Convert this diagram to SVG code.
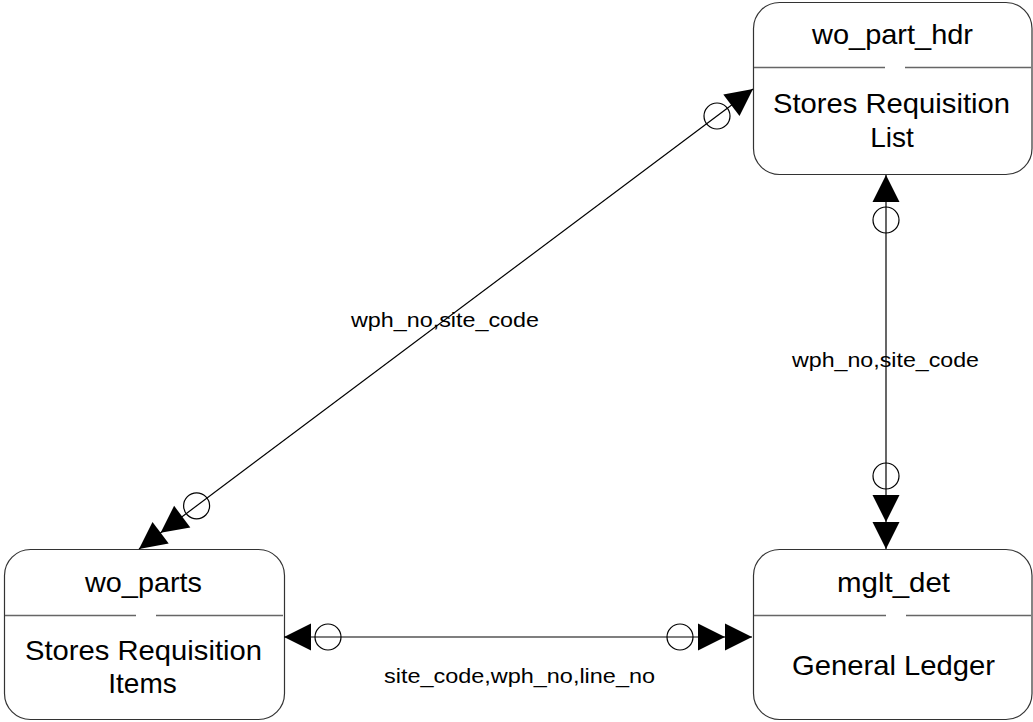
<svg xmlns="http://www.w3.org/2000/svg" xmlns:xlink="http://www.w3.org/1999/xlink" width="1033" height="722" viewBox="0 0 1033 722">
  <style>
    .box { fill: #ffffff; stroke: #333333; stroke-width: 1.2; }
    .div { stroke: #666666; stroke-width: 1.5; fill: none; }
    .title { font-family: "Liberation Sans", Arial, sans-serif; font-size: 28px; fill: #000; text-anchor: middle; }
    .lbl { font-family: "Liberation Sans", Arial, sans-serif; font-size: 20.5px; fill: #000; }
    .line { stroke: #000; stroke-width: 1.2; fill: none; }
    .opt { fill: none; stroke: #000; stroke-width: 1.2; }
    .head { fill: #000; stroke: none; }
  </style>
  <defs>
    <polygon id="tri" class="head" points="0,0 -27,-13.5 -27,13.5"/>
  </defs>
  <rect width="1033" height="722" fill="#ffffff"/>

  <g id="node-wo_part_hdr">
    <rect class="box" x="753.5" y="2.5" width="278.5" height="172" rx="26" ry="26"/>
    <path class="div" d="M754,67.5 H885 M905,67.5 H1031"/>
    <text class="title" x="892.5" y="44" textLength="161" lengthAdjust="spacingAndGlyphs">wo_part_hdr</text>
    <text class="title" x="891.5" y="113" textLength="237" lengthAdjust="spacingAndGlyphs">Stores Requisition</text>
    <text class="title" x="892" y="147">List</text>
  </g>

  <g id="node-wo_parts">
    <rect class="box" x="4.5" y="549.5" width="280" height="170" rx="26" ry="26"/>
    <path class="div" d="M5,615.5 H136 M156,615.5 H283"/>
    <text class="title" x="143.5" y="592" textLength="117" lengthAdjust="spacingAndGlyphs">wo_parts</text>
    <text class="title" x="143.5" y="660" textLength="237" lengthAdjust="spacingAndGlyphs">Stores Requisition</text>
    <text class="title" x="142.5" y="693">Items</text>
  </g>

  <g id="node-mglt_det">
    <rect class="box" x="753.5" y="549.5" width="278.5" height="170" rx="26" ry="26"/>
    <path class="div" d="M754,615.5 H886 M906,615.5 H1031"/>
    <text class="title" x="893.5" y="592" textLength="113" lengthAdjust="spacingAndGlyphs">mglt_det</text>
    <text class="title" x="893.5" y="675" textLength="203" lengthAdjust="spacingAndGlyphs">General Ledger</text>
  </g>

  <g id="connectors">
    <!-- wo_part_hdr <-> wo_parts -->
    <line class="line" x1="139" y1="549" x2="753" y2="89"/>
    <use xlink:href="#tri" href="#tri" transform="translate(753,89) rotate(-36.84)"/>
    <circle class="opt" cx="717" cy="116" r="13"/>
    <use xlink:href="#tri" href="#tri" transform="translate(139,549) rotate(143.16)"/>
    <use xlink:href="#tri" href="#tri" transform="translate(160.6,532.8) rotate(143.16)"/>
    <circle class="opt" cx="196.6" cy="505.8" r="13"/>
    <text class="lbl" x="351" y="327" textLength="188" lengthAdjust="spacingAndGlyphs">wph_no,site_code</text>

    <!-- wo_part_hdr <-> mglt_det -->
    <line class="line" x1="886" y1="175" x2="886" y2="549"/>
    <use xlink:href="#tri" href="#tri" transform="translate(886,175) rotate(-90)"/>
    <circle class="opt" cx="886" cy="220" r="13"/>
    <use xlink:href="#tri" href="#tri" transform="translate(886,549) rotate(90)"/>
    <use xlink:href="#tri" href="#tri" transform="translate(886,522) rotate(90)"/>
    <circle class="opt" cx="886" cy="476" r="13"/>
    <text class="lbl" x="792" y="367" textLength="187" lengthAdjust="spacingAndGlyphs">wph_no,site_code</text>

    <!-- wo_parts <-> mglt_det -->
    <line class="line" x1="284" y1="637" x2="752" y2="637"/>
    <use xlink:href="#tri" href="#tri" transform="translate(284,637) rotate(180)"/>
    <circle class="opt" cx="328" cy="637" r="13"/>
    <use xlink:href="#tri" href="#tri" transform="translate(752,637)"/>
    <use xlink:href="#tri" href="#tri" transform="translate(725,637)"/>
    <circle class="opt" cx="680" cy="637" r="13"/>
    <text class="lbl" x="384" y="683" textLength="271" lengthAdjust="spacingAndGlyphs">site_code,wph_no,line_no</text>
  </g>
</svg>
